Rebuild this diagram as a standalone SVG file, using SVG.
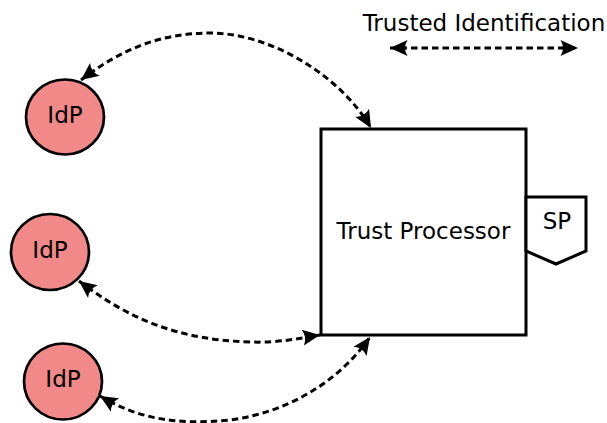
<svg xmlns="http://www.w3.org/2000/svg" width="607" height="423" viewBox="0 0 607 423">
<style>
.lbl{font-family:"DejaVu Sans","Liberation Sans",sans-serif;font-size:23px;fill:#000;text-anchor:middle}
.idp{fill:#f28989;stroke:#000;stroke-width:2.7}
.box{fill:#fff;stroke:#000;stroke-width:3}
.conn{fill:none;stroke:#000;stroke-width:3;stroke-dasharray:6.5,4;marker-start:url(#ah);marker-end:url(#ah)}
</style>
<defs>
<marker id="ah" markerUnits="userSpaceOnUse" viewBox="-19 -10 21 20" refX="0" refY="0" markerWidth="21" markerHeight="20" orient="auto-start-reverse">
<path d="M0,0 L-17.5,-8 Q-12.5,0 -17.5,8 Z" fill="#000"/>
</marker>
</defs>
<rect width="607" height="423" fill="#fff"/>
<g id="legend">
<text class="lbl" x="484" y="31">Trusted Identification</text>
</g>
<g id="trust-processor">
<rect class="box" x="321" y="129" width="205" height="206"/>
<text class="lbl" x="423.5" y="239">Trust Processor</text>
</g>
<g id="sp">
<path class="box" stroke-width="2.4" d="M526,197 L586,197 L586,251 L556,264 L526,251 Z"/>
<text class="lbl" x="557" y="229">SP</text>
</g>
<g id="idp1">
<ellipse class="idp" cx="65" cy="117" rx="39" ry="37.5"/>
<text class="lbl" x="65" y="123">IdP</text>
</g>
<g id="idp2">
<ellipse class="idp" cx="50" cy="252" rx="39" ry="38"/>
<text class="lbl" x="50" y="258">IdP</text>
</g>
<g id="idp3">
<ellipse class="idp" cx="63" cy="381.5" rx="39" ry="38"/>
<text class="lbl" x="63" y="387">IdP</text>
</g>
<g id="connectors">
<path class="conn" d="M390,48 L578,48"/>
<path class="conn" d="M81,80 C120,50 160,33 210,33 C270,33 340,75 371,128"/>
<path class="conn" d="M79,281 C130,320 180,340 250,342 C280,343 300,338 320,335"/>
<path class="conn" d="M100,396 C140,420 180,425 230,420 C290,412 340,380 370,337"/>
</g>
</svg>
